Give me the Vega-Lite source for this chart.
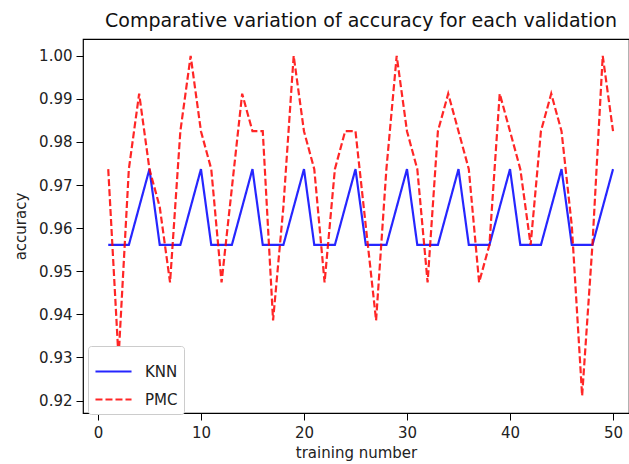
{
  "$schema": "https://vega.github.io/schema/vega-lite/v6.json",
  "autosize": {"type": "none"},
  "padding": {"left": 83, "top": 39, "right": 0, "bottom": 51},
  "width": 546,
  "height": 374,
  "background": "white",
  "title": {"text": "Comparative variation of accuracy for each validation", "font": "DejaVu Sans", "fontSize": 19, "fontWeight": "normal", "color": "#111", "anchor": "middle", "offset": 8, "frame": "group", "dx": 5},
  "config": {
    "view": {"stroke": "#000", "strokeWidth": 1.2},
    "axis": {"labelFont": "DejaVu Sans", "titleFont": "DejaVu Sans", "labelFontSize": 15, "titleFontSize": 15, "titleFontWeight": "normal", "labelColor": "#222", "titleColor": "#222", "domain": false, "grid": false, "tickColor": "#000", "tickSize": 7, "tickWidth": 1, "labelPadding": 4}
  },
  "datasets": {
    "acc": [
      {"n":1,"model":"KNN","acc":0.9561},{"n":2,"model":"KNN","acc":0.9561},{"n":3,"model":"KNN","acc":0.9561},{"n":4,"model":"KNN","acc":0.9649},{"n":5,"model":"KNN","acc":0.9737},
      {"n":6,"model":"KNN","acc":0.9561},{"n":7,"model":"KNN","acc":0.9561},{"n":8,"model":"KNN","acc":0.9561},{"n":9,"model":"KNN","acc":0.9649},{"n":10,"model":"KNN","acc":0.9737},
      {"n":11,"model":"KNN","acc":0.9561},{"n":12,"model":"KNN","acc":0.9561},{"n":13,"model":"KNN","acc":0.9561},{"n":14,"model":"KNN","acc":0.9649},{"n":15,"model":"KNN","acc":0.9737},
      {"n":16,"model":"KNN","acc":0.9561},{"n":17,"model":"KNN","acc":0.9561},{"n":18,"model":"KNN","acc":0.9561},{"n":19,"model":"KNN","acc":0.9649},{"n":20,"model":"KNN","acc":0.9737},
      {"n":21,"model":"KNN","acc":0.9561},{"n":22,"model":"KNN","acc":0.9561},{"n":23,"model":"KNN","acc":0.9561},{"n":24,"model":"KNN","acc":0.9649},{"n":25,"model":"KNN","acc":0.9737},
      {"n":26,"model":"KNN","acc":0.9561},{"n":27,"model":"KNN","acc":0.9561},{"n":28,"model":"KNN","acc":0.9561},{"n":29,"model":"KNN","acc":0.9649},{"n":30,"model":"KNN","acc":0.9737},
      {"n":31,"model":"KNN","acc":0.9561},{"n":32,"model":"KNN","acc":0.9561},{"n":33,"model":"KNN","acc":0.9561},{"n":34,"model":"KNN","acc":0.9649},{"n":35,"model":"KNN","acc":0.9737},
      {"n":36,"model":"KNN","acc":0.9561},{"n":37,"model":"KNN","acc":0.9561},{"n":38,"model":"KNN","acc":0.9561},{"n":39,"model":"KNN","acc":0.9649},{"n":40,"model":"KNN","acc":0.9737},
      {"n":41,"model":"KNN","acc":0.9561},{"n":42,"model":"KNN","acc":0.9561},{"n":43,"model":"KNN","acc":0.9561},{"n":44,"model":"KNN","acc":0.9649},{"n":45,"model":"KNN","acc":0.9737},
      {"n":46,"model":"KNN","acc":0.9561},{"n":47,"model":"KNN","acc":0.9561},{"n":48,"model":"KNN","acc":0.9561},{"n":49,"model":"KNN","acc":0.9649},{"n":50,"model":"KNN","acc":0.9737},
      {"n":1,"model":"PMC","acc":0.9737},{"n":2,"model":"PMC","acc":0.9298},{"n":3,"model":"PMC","acc":0.9737},{"n":4,"model":"PMC","acc":0.9912},{"n":5,"model":"PMC","acc":0.9737},
      {"n":6,"model":"PMC","acc":0.9649},{"n":7,"model":"PMC","acc":0.9474},{"n":8,"model":"PMC","acc":0.9825},{"n":9,"model":"PMC","acc":1.0},{"n":10,"model":"PMC","acc":0.9825},
      {"n":11,"model":"PMC","acc":0.9737},{"n":12,"model":"PMC","acc":0.9474},{"n":13,"model":"PMC","acc":0.9693},{"n":14,"model":"PMC","acc":0.9912},{"n":15,"model":"PMC","acc":0.9825},
      {"n":16,"model":"PMC","acc":0.9825},{"n":17,"model":"PMC","acc":0.9386},{"n":18,"model":"PMC","acc":0.9649},{"n":19,"model":"PMC","acc":1.0},{"n":20,"model":"PMC","acc":0.9825},
      {"n":21,"model":"PMC","acc":0.9737},{"n":22,"model":"PMC","acc":0.9474},{"n":23,"model":"PMC","acc":0.9737},{"n":24,"model":"PMC","acc":0.9825},{"n":25,"model":"PMC","acc":0.9825},
      {"n":26,"model":"PMC","acc":0.9605},{"n":27,"model":"PMC","acc":0.9386},{"n":28,"model":"PMC","acc":0.9737},{"n":29,"model":"PMC","acc":1.0},{"n":30,"model":"PMC","acc":0.9825},
      {"n":31,"model":"PMC","acc":0.9737},{"n":32,"model":"PMC","acc":0.9474},{"n":33,"model":"PMC","acc":0.9825},{"n":34,"model":"PMC","acc":0.9912},{"n":35,"model":"PMC","acc":0.9825},
      {"n":36,"model":"PMC","acc":0.9737},{"n":37,"model":"PMC","acc":0.9474},{"n":38,"model":"PMC","acc":0.9561},{"n":39,"model":"PMC","acc":0.9912},{"n":40,"model":"PMC","acc":0.9825},
      {"n":41,"model":"PMC","acc":0.9737},{"n":42,"model":"PMC","acc":0.9561},{"n":43,"model":"PMC","acc":0.9825},{"n":44,"model":"PMC","acc":0.9912},{"n":45,"model":"PMC","acc":0.9825},
      {"n":46,"model":"PMC","acc":0.9605},{"n":47,"model":"PMC","acc":0.9211},{"n":48,"model":"PMC","acc":0.9561},{"n":49,"model":"PMC","acc":1.0},{"n":50,"model":"PMC","acc":0.9825}
    ]
  },
  "data": {"name": "acc"},
  "mark": {"type": "line", "strokeWidth": 2.2, "opacity": 0.85, "clip": true},
  "encoding": {
    "x": {"field": "n", "type": "quantitative", "title": "training number",
      "scale": {"domain": [-1.45, 51.55], "nice": false, "zero": false},
      "axis": {"values": [0, 10, 20, 30, 40, 50], "labelPadding": 5, "titlePadding": 5}},
    "y": {"field": "acc", "type": "quantitative", "title": "accuracy",
      "scale": {"domain": [0.9171, 1.0039], "nice": false, "zero": false},
      "axis": {"values": [0.92, 0.93, 0.94, 0.95, 0.96, 0.97, 0.98, 0.99, 1.0], "format": ".2f", "labelPadding": 4, "titlePadding": 10}},
    "color": {"field": "model", "type": "nominal", "title": null,
      "scale": {"domain": ["KNN", "PMC"], "range": ["#0000ff", "#ff0000"]},
      "legend": {"orient": "none", "legendX": 5, "legendY": 307, "symbolType": "stroke", "symbolSize": 1300, "symbolStrokeWidth": 2.2, "labelFont": "DejaVu Sans", "labelFontSize": 15, "labelColor": "#222", "padding": 6, "strokeColor": "#cccccc", "fillColor": "white", "cornerRadius": 3, "rowPadding": -11, "labelOffset": 12, "symbolOpacity": 0.85}},
    "strokeDash": {"field": "model", "type": "nominal", "title": null,
      "scale": {"domain": ["KNN", "PMC"], "range": [[1, 0], [7, 3]]}}
  }
}
